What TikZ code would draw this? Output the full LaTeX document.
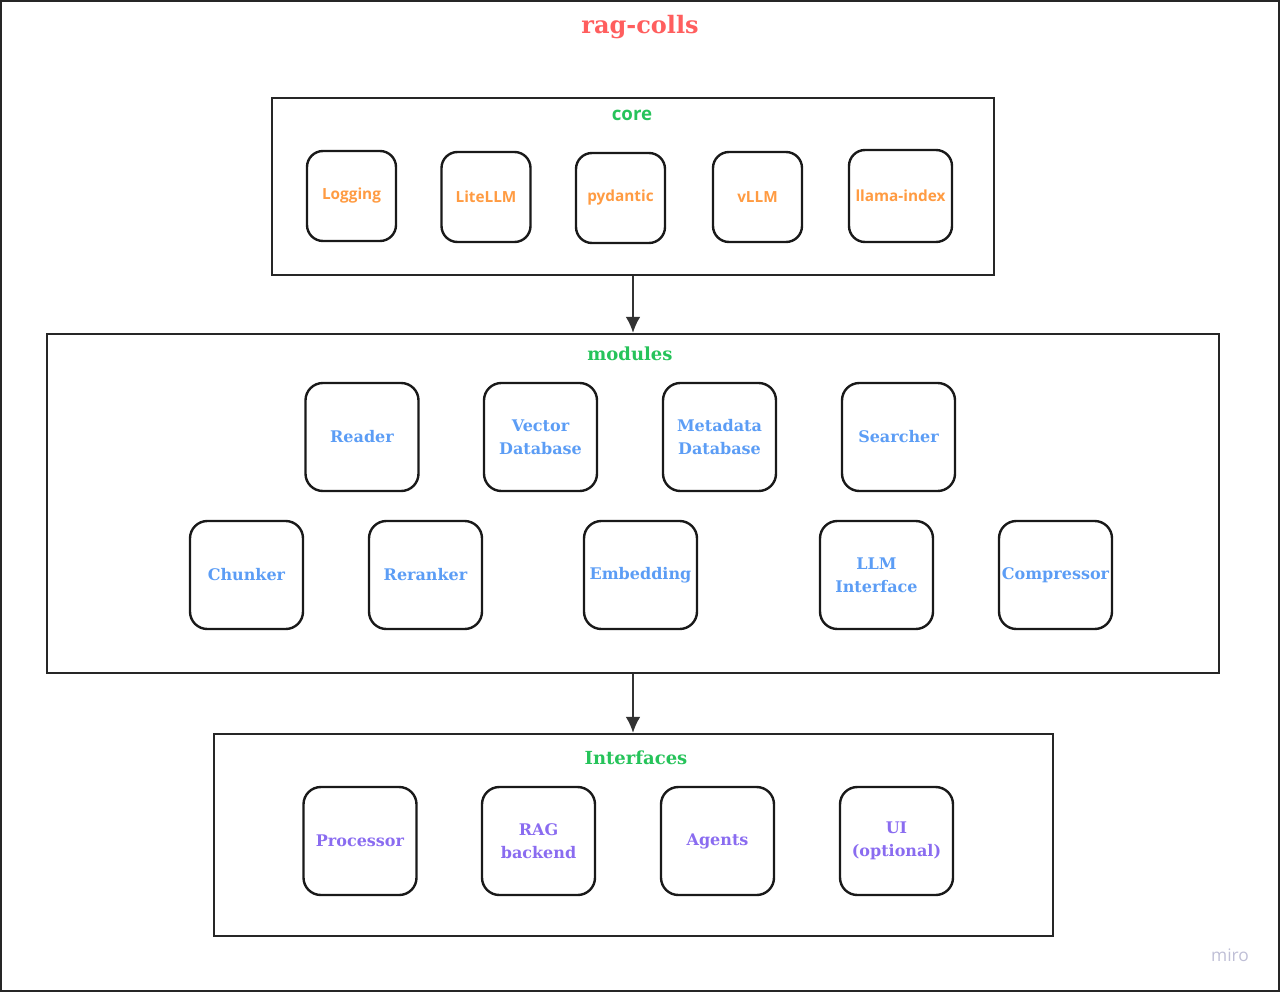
\documentclass[tikz,border=0pt]{standalone}
\usepackage{fontspec}
\setmainfont{DejaVu Serif}
\newfontfamily\opensans{Open Sans}
\usetikzlibrary{arrows.meta, positioning}
\definecolor{titlered}{HTML}{FF5E5E}
\definecolor{groupgreen}{HTML}{26C35A}
\definecolor{coreorange}{HTML}{FF9B42}
\definecolor{modblue}{HTML}{5C9DF5}
\definecolor{ifpurple}{HTML}{8A6CF0}
\definecolor{mirogrey}{HTML}{BFBFD6}
\tikzset{
  group/.style={draw=black!85, line width=1.6pt, inner sep=0pt},
  grouplabel/.style={text=groupgreen, font=\bfseries\fontsize{13.5}{16}\selectfont},
  corebox/.style={draw=black!90, line width=1.8pt, rounded corners=12pt,
    minimum width=66.75pt, minimum height=67.5pt, inner sep=0pt,
    text=coreorange, font=\opensans\bfseries\fontsize{11.5}{13}\selectfont},
  modbox/.style={draw=black!90, line width=1.8pt, rounded corners=13pt,
    minimum width=84.75pt, minimum height=81pt, inner sep=0pt, align=center,
    text=modblue, font=\bfseries\fontsize{12}{17}\selectfont},
  ifbox/.style={modbox, text=ifpurple},
  flow/.style={-{Latex[length=12pt,width=11pt]}, line width=1.6pt, draw=black!80}
}
\begin{document}
\begin{tikzpicture}[x=0.75pt, y=-0.75pt]
 \useasboundingbox (0,0) rectangle (1280,992);
 \draw[line width=1.6pt, draw=black!85] (1,1) rectangle (1279,991);
 \node[text=titlered, font=\bfseries\fontsize{18}{20}\selectfont] (title) at (640,27) {rag-colls};

 % core
 \node[group, minimum width=541.5pt, minimum height=132.75pt] (core) at (633,186.5) {};
 \node[grouplabel, font=\opensans\bfseries\fontsize{14}{16}\selectfont] (corelbl) at (632,115) {core};
 \node[corebox] (logging) at (351.5,196) {Logging};
 \node[corebox] (litellm) at (486,197) {LiteLLM};
 \node[corebox] (pydantic) at (620.5,198) {pydantic};
 \node[corebox] (vllm) at (757.5,197) {vLLM};
 \node[corebox, minimum width=77.25pt, minimum height=69pt] (llamaindex) at (900.5,196) {llama-index};

 % modules
 \node[group, minimum width=879pt, minimum height=254.25pt] (modules) at (633,503.5) {};
 \node[grouplabel] (modlbl) at (630,354) {modules};
 \node[modbox] (reader) at (362,437) {Reader};
 \node[modbox] (vectordb) at (540.5,437) {Vector\\Database};
 \node[modbox] (metadb) at (719.5,437) {Metadata\\Database};
 \node[modbox] (searcher) at (898.5,437) {Searcher};
 \node[modbox] (chunker) at (246.5,575) {Chunker};
 \node[modbox] (reranker) at (425.5,575) {Reranker};
 \node[modbox] (embedding) at (640.5,575) {Embedding};
 \node[modbox] (llmif) at (876.5,575) {LLM\\Interface};
 \node[modbox] (compressor) at (1055.5,575) {Compressor};

 % interfaces
 \node[group, minimum width=629.25pt, minimum height=151.5pt] (interfaces) at (633.5,835) {};
 \node[grouplabel] (iflbl) at (636,758) {Interfaces};
 \node[ifbox] (processor) at (360,841) {Processor};
 \node[ifbox] (ragbackend) at (538.5,841) {RAG\\backend};
 \node[ifbox] (agents) at (717.5,841) {Agents};
 \node[ifbox] (ui) at (896.5,841) {UI\\(optional)};

 \draw[flow] (core.south -| 633,0) -- (modules.north -| 633,0);
 \draw[flow] (modules.south -| 633,0) -- (interfaces.north -| 633,0);

 \node[text=mirogrey, font=\opensans\fontsize{13}{15}\selectfont] (miro) at (1230,955) {miro};
\end{tikzpicture}
\end{document}
